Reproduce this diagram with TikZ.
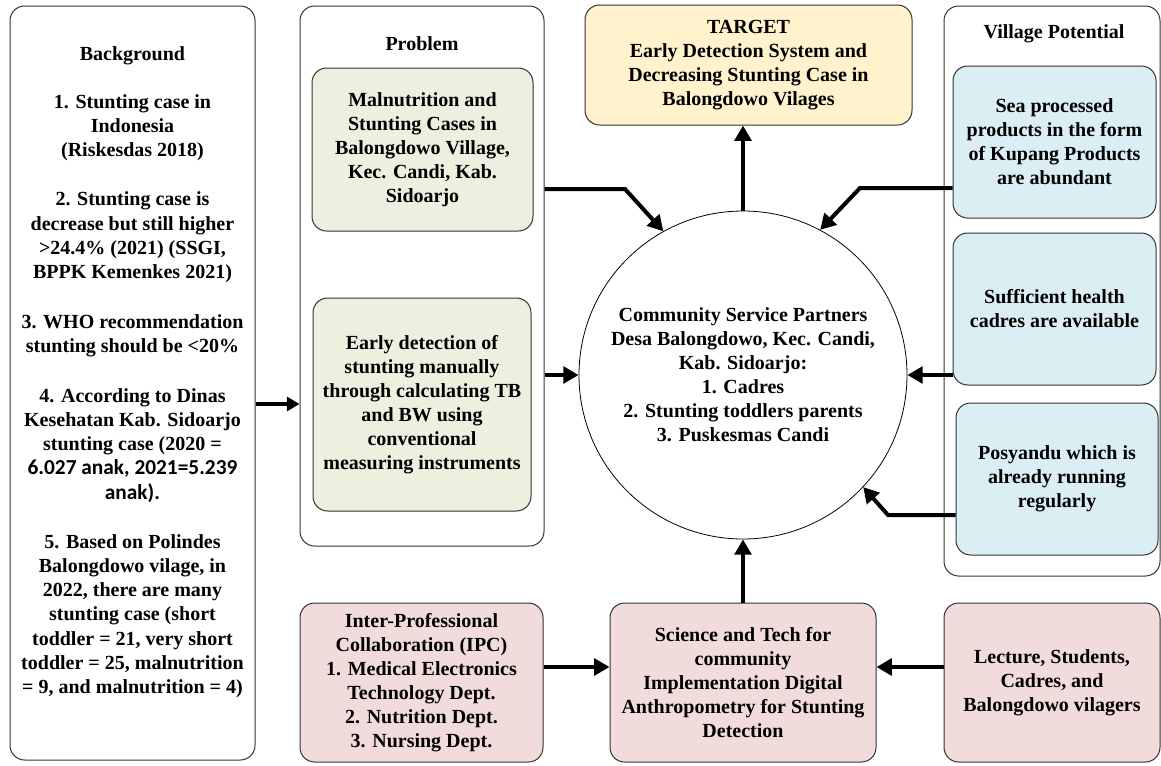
\documentclass[tikz,border=0pt]{standalone}
\usepackage{fontspec}
\setmainfont{Liberation Serif}
\newfontfamily\calibri{Carlito}
\usetikzlibrary{arrows.meta}
\definecolor{gfill}{HTML}{EBF1DE}
\definecolor{bfill}{HTML}{DBEEF4}
\definecolor{pfill}{HTML}{F2DCDB}
\definecolor{yfill}{HTML}{FFF2CC}
\begin{document}
\begin{tikzpicture}[x=0.75pt,y=-0.75pt,
  font=\fontsize{15}{18}\selectfont\bfseries,
  box/.style={draw=black!80, line width=0.75pt, rounded corners=11pt, align=center, inner sep=2pt},
  frame/.style={box, fill=white},
  conn/.style={line width=3pt, -{Triangle[length=11.5pt,width=12.5pt]}},
  thinconn/.style={line width=2.5pt, -{Triangle[length=9.5pt,width=10.5pt]}},
  title/.style={align=center, inner sep=0pt}]
\useasboundingbox (0,0) rectangle (1161,765);
\fill[white] (0,0) rectangle (1161,765);

% outer frames
\node[frame, minimum width=183.75pt, minimum height=565.5pt] (bg) at (132.5,383) {};
\node[frame, minimum width=183pt, minimum height=405pt] (prob) at (422,276) {};
\node[frame, minimum width=162pt, minimum height=427.5pt] (vil) at (1052,291) {};

% texts in frames
\node[title, anchor=north, font=\fontsize{15}{18.2}\selectfont\bfseries] (bgtext) at (132.5,46) {Background\\[18pt]
1. Stunting case in\\ Indonesia\\ (Riskesdas 2018)\\[18.5pt]
2. Stunting case is\\ decrease but still higher\\ >24.4\% (2021) (SSGI,\\ BPPK Kemenkes 2021)\\[19pt]
3. WHO recommendation\\ stunting should be <20\%\\[19pt]
4. According to Dinas\\ Kesehatan Kab. Sidoarjo\\ stunting case (2020 =\\ {\calibri\fontsize{16}{18}\selectfont 6.027 anak, 2021=5.239}\\ {\calibri\fontsize{16}{18}\selectfont anak).}\\[18.5pt]
5. Based on Polindes\\ Balongdowo vilage, in\\ 2022, there are many\\ stunting case (short\\ toddler = 21, very short\\ toddler = 25, malnutrition\\ = 9, and malnutrition = 4)};
\node[title] (probtitle) at (422,44) {Problem};
\node[title] (viltitle) at (1054,34) {Village Potential};

% problem boxes
\node[box, fill=gfill, minimum width=165.75pt, minimum height=122.25pt] (g1) at (422.5,149.5)
  {Malnutrition and\\ Stunting Cases in\\ Balongdowo Village,\\ Kec. Candi, Kab.\\ Sidoarjo};
\node[box, fill=gfill, minimum width=163.5pt, minimum height=159.75pt] (g2) at (422,404.5)
  {Early detection of\\ stunting manually\\ through calculating TB\\ and BW using\\ conventional\\ measuring instruments};

% target
\node[box, fill=yfill, minimum width=245.25pt, minimum height=90pt] (tgt) at (748.5,65)
  {TARGET\\ Early Detection System and\\ Decreasing Stunting Case in\\ Balongdowo Vilages};

% circle
\node[circle, draw=black, line width=0.6pt, minimum size=246pt, align=center, inner sep=0pt] (circ) at (743,375)
  {Community Service Partners\\ Desa Balongdowo, Kec. Candi,\\ Kab. Sidoarjo:\\ 1. Cadres\\ 2. Stunting toddlers parents\\ 3. Puskesmas Candi};

% village potential boxes
\node[box, fill=bfill, minimum width=152.25pt, minimum height=114pt] (b1) at (1054.5,142)
  {Sea processed\\ products in the form\\ of Kupang Products\\ are abundant};
\node[box, fill=bfill, minimum width=152.25pt, minimum height=114pt] (b2) at (1054.5,309)
  {Sufficient health\\ cadres are available};
\node[box, fill=bfill, minimum width=151.5pt, minimum height=114pt] (b3) at (1057,479)
  {Posyandu which is\\ already running\\ regularly};

% bottom boxes
\node[box, fill=pfill, minimum width=182.25pt, minimum height=119.25pt] (ipc) at (421.5,682.5)
  {Inter-Professional\\ Collaboration (IPC)\\ 1. Medical Electronics\\ Technology Dept.\\ 2. Nutrition Dept.\\ 3. Nursing Dept.};
\node[box, fill=pfill, minimum width=199.5pt, minimum height=119.25pt] (sci) at (743,682.5)
  {Science and Tech for\\ community\\ Implementation Digital\\ Anthropometry for Stunting\\ Detection};
\node[box, fill=pfill, minimum width=162pt, minimum height=119.25pt] (lec) at (1052,682.5)
  {Lecture, Students,\\ Cadres, and\\ Balongdowo vilagers};

% helper coordinates
\coordinate (k1) at (0,404);
\coordinate (c1) at (625,189);
\coordinate (c2) at (860,188);
\coordinate (c3) at (888,515);
\coordinate (k4) at (0,667);

% connectors
\draw[thinconn] (bg.east |- k1) -- (prob.west |- k1);
\draw[conn] (prob.east |- c1) -- (c1) -- (circ.119);
\draw[conn] (prob.east |- circ.west) -- (circ.west);
\draw[conn] (circ.north) -- (circ.north |- tgt.south);
\draw[conn] (b1.west |- c2) -- (c2) -- (circ.62);
\draw[conn] (b2.west |- circ.east) -- (circ.east);
\draw[conn] (b3.west |- c3) -- (c3) -- (circ.-43);
\draw[conn] (sci.north) -- (circ.south);
\draw[conn] (ipc.east |- k4) -- (sci.west |- k4);
\draw[conn] (lec.west |- k4) -- (sci.east |- k4);
\end{tikzpicture}
\end{document}
